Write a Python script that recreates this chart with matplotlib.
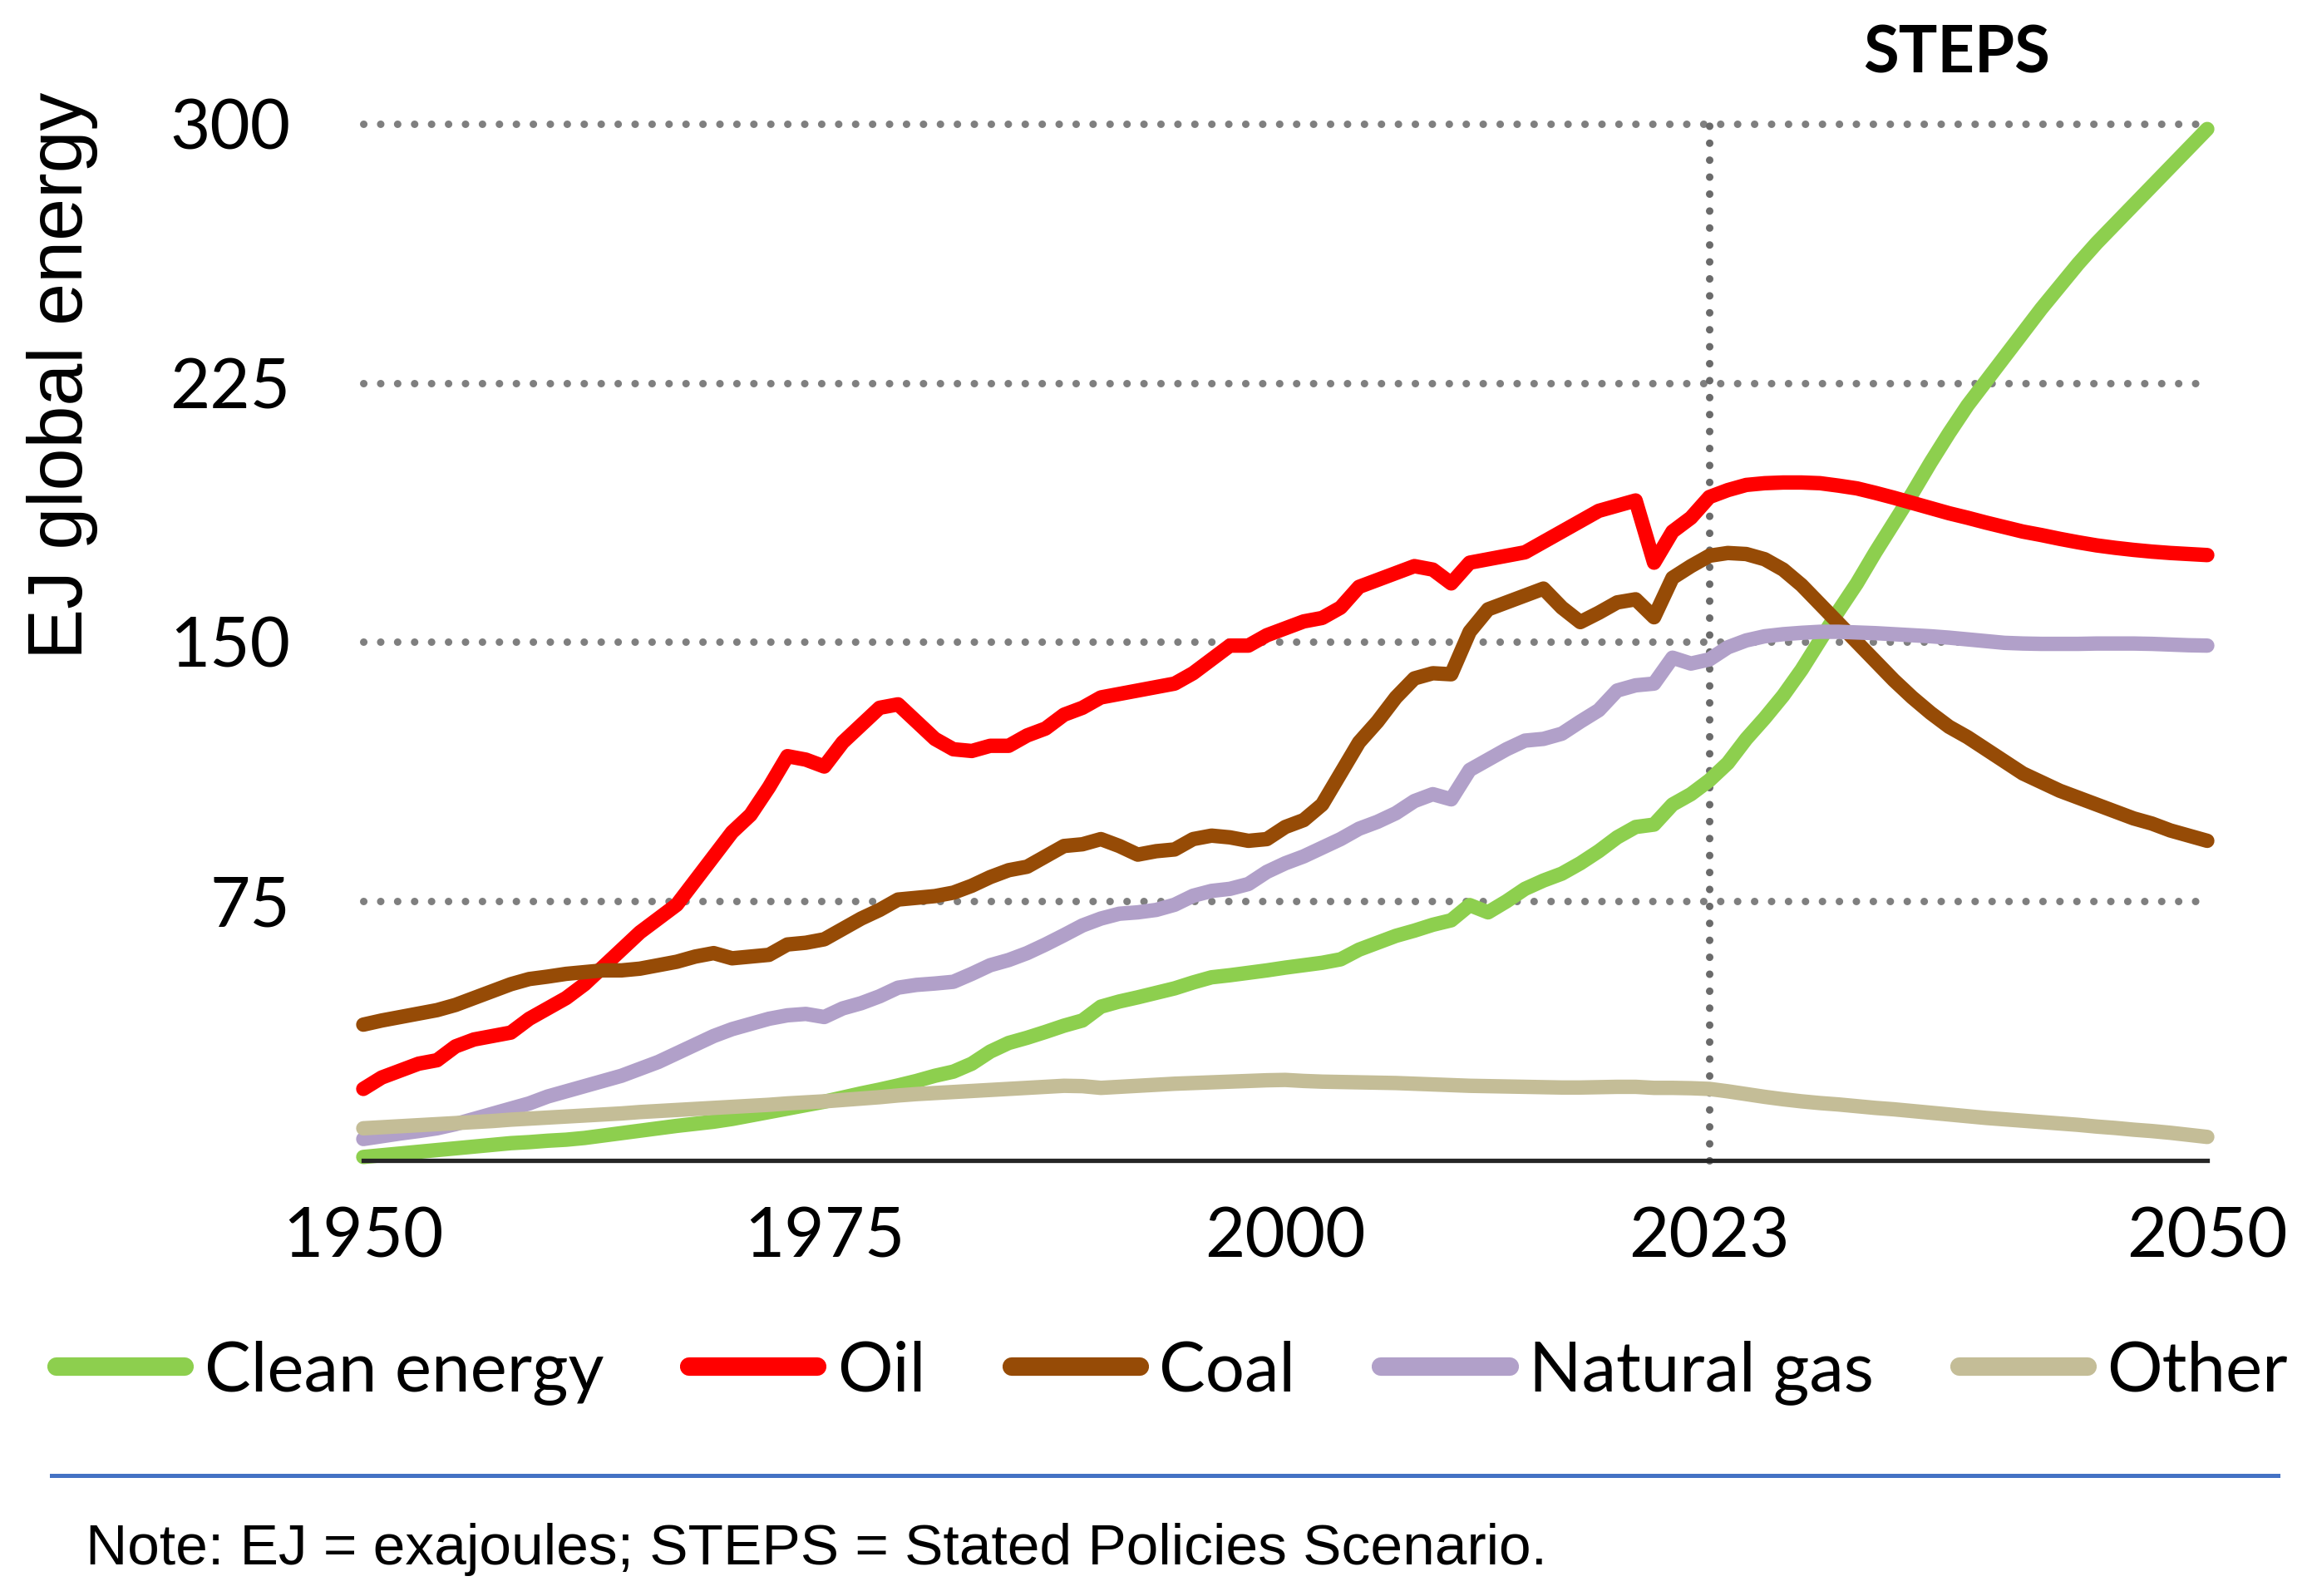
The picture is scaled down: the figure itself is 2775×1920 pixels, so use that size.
import matplotlib
matplotlib.use("Agg")
import matplotlib.pyplot as plt
from matplotlib.lines import Line2D

years = list(range(1950, 2051))

clean_energy = [
    1, 1.5, 2, 2.5, 3, 3.5, 4, 4.5, 5, 5.3,
    5.7, 6, 6.5, 7.2, 7.9, 8.6, 9.3, 10, 10.6, 11.2,
    12, 13, 14, 15, 16, 17, 18.2, 19.4, 20.5, 21.7,
    23, 24.5, 25.7, 28, 31.5, 34, 35.5, 37.2, 39, 40.5,
    44.5, 46, 47.2, 48.5, 49.8, 51.5, 53, 53.6, 54.3, 55,
    55.8, 56.5, 57.2, 58.2, 61, 63, 65, 66.5, 68.2, 69.5,
    73.9, 71.8, 75, 78.6, 81, 83, 86, 89.5, 93.5, 96.5,
    97.2, 103, 106, 110,
    115, 122, 128, 134.5, 142, 150.5, 159, 167, 176, 184.5,
    193, 202, 210.5, 218.5, 225.5, 232.5, 239.5, 246.5, 253, 259.5,
    265.5, 271, 276.5, 282, 287.5, 293, 298.5]

oil = [
    20.7, 24, 26, 28, 29, 33, 35, 36, 37, 41,
    44, 47, 51, 56, 61, 66, 70, 74, 81, 88,
    95, 100, 108, 117, 116, 114, 121, 126, 131, 132,
    127, 122, 119, 118.5, 120, 120, 123, 125, 129, 131,
    134, 135, 136, 137, 138, 141, 145, 149, 149, 152,
    154, 156, 157, 160, 166, 168, 170, 172, 171, 167,
    173, 174, 175, 176, 179, 182, 185, 188, 189.5, 191,
    173, 182, 186, 192,
    194, 195.5, 196, 196.2, 196.2, 196, 195.3, 194.5, 193.2, 191.8,
    190.3, 188.8, 187.3, 186, 184.6, 183.3, 182, 181, 179.9, 178.9,
    178, 177.3, 176.7, 176.2, 175.8, 175.5, 175.2]

coal = [
    39.3, 40.5, 41.5, 42.5, 43.5, 45, 47, 49, 51, 52.5,
    53.2, 54, 54.5, 55, 55, 55.5, 56.5, 57.5, 59, 60,
    58.5, 59, 59.5, 62.5, 63, 64, 67, 70, 72.5, 75.5,
    76, 76.5, 77.5, 79.5, 82, 84, 85, 88, 91, 91.5,
    93, 91, 88.5, 89.5, 90, 93, 94, 93.5, 92.5, 93,
    96.5, 98.5, 103, 112, 121, 127, 134, 139.5, 141, 140.7,
    153, 159.5, 161.5, 163.5, 165.5, 160, 155.8, 158.5, 161.5, 162.4,
    157.2, 168.6, 172, 175,
    175.8, 175.5, 174, 171, 166.5, 161, 155.5, 150, 144.5, 139,
    134, 129.5, 125.5, 122.5, 119, 115.5, 112, 109.5, 107, 105,
    103, 101, 99, 97.5, 95.5, 94, 92.5]

natural_gas = [
    6.2, 7, 7.8, 8.5, 9.3, 10.5, 12, 13.5, 15, 16.5,
    18.5, 20, 21.5, 23, 24.5, 26.5, 28.5, 31, 33.5, 36,
    38, 39.5, 41, 42, 42.4, 41.5, 44, 45.5, 47.5, 50,
    50.8, 51.2, 51.7, 54, 56.5, 58, 60, 62.5, 65.2, 68,
    70, 71.4, 71.8, 72.5, 74, 76.6, 78, 78.6, 80, 83.5,
    86, 88, 90.5, 93, 96, 98, 100.5, 104, 106, 104.5,
    113, 116, 119, 121.5, 122, 123.5, 127, 130.3, 136, 137.5,
    138, 145.5, 143.8, 145,
    148.5, 150.5, 151.7, 152.3, 152.7, 153, 153, 152.8, 152.6, 152.3,
    152, 151.7, 151.3, 150.8, 150.3, 149.8, 149.6, 149.5, 149.5, 149.5,
    149.6, 149.6, 149.6, 149.5, 149.3, 149.1, 149]

other = [
    9.3, 9.6, 9.9, 10.2, 10.5, 10.8, 11.1, 11.4, 11.8, 12.1,
    12.4, 12.7, 13, 13.3, 13.6, 14, 14.3, 14.6, 14.9, 15.2,
    15.5, 15.8, 16.1, 16.5, 16.8, 17.1, 17.5, 17.9, 18.3, 18.8,
    19.2, 19.5, 19.8, 20.1, 20.4, 20.7, 21, 21.3, 21.6, 21.5,
    21, 21.3, 21.6, 21.9, 22.2, 22.4, 22.6, 22.8, 23, 23.2,
    23.3, 23, 22.8, 22.7, 22.6, 22.5, 22.4, 22.2, 22, 21.8,
    21.6, 21.5, 21.4, 21.3, 21.2, 21.1, 21.1, 21.2, 21.3, 21.3,
    21, 21, 20.9, 20.7,
    20, 19.2, 18.4, 17.7, 17.1, 16.6, 16.2, 15.7, 15.2, 14.8,
    14.3, 13.8, 13.3, 12.8, 12.3, 11.9, 11.5, 11.1, 10.7, 10.3,
    9.8, 9.4, 8.9, 8.5, 8, 7.4, 6.8]

series_names = ["Clean energy", "Oil", "Coal", "Natural gas", "Other"]
series_colors = ["#8DCF4E", "#FF0000", "#964B06", "#B1A0C9", "#C4BD97"]
x_ticks = [1950, 1975, 2000, 2023, 2050]
y_ticks = [75, 150, 225, 300]
base_year = 2023

W, H = 2775, 1920
fig = plt.figure(figsize=(W / 100, H / 100), dpi=100)
ax = fig.add_axes([437 / W, 1 - 1396 / H, (2655 - 437) / W, (1396 - 149) / H])

ax.set_xlim(1950, 2050)
ax.set_ylim(0, 300)

dot_style = (0, (0.01, 2.25))
for yv in y_ticks:
    ax.plot([1950, 2050], [yv, yv], color="#7F7F7F", lw=6.5,
            linestyle=dot_style, dash_capstyle="round", zorder=1,
            clip_on=False)
ax.plot([base_year, base_year], [0, 300], color="#6A6A6A", lw=6.5,
        linestyle=dot_style, dash_capstyle="round", zorder=1,
        clip_on=False)

data = [clean_energy, oil, coal, natural_gas, other]
for vals, name, col in zip(data, series_names, series_colors):
    ax.plot(years, vals, color=col, lw=12.5, solid_capstyle="round",
            solid_joinstyle="round", label=name, zorder=3, clip_on=False)

for s in ["top", "right", "left"]:
    ax.spines[s].set_visible(False)
ax.spines["bottom"].set_color("#262626")
ax.spines["bottom"].set_linewidth(3.8)
ax.spines["bottom"].set_zorder(4)

ax.set_xticks(x_ticks)
ax.set_xticklabels([str(t) for t in x_ticks])
ax.set_yticks(y_ticks)
ax.set_yticklabels([str(t) for t in y_ticks])
ax.tick_params(axis="both", length=0, labelsize=60, colors="#000000")
ax.tick_params(axis="x", pad=40)
ax.tick_params(axis="y", pad=63)
for lab in ax.get_xticklabels() + ax.get_yticklabels():
    lab.set_fontfamily(["Lato", "DejaVu Sans"])

fig.text(75 / W, 1 - 452 / H, "EJ global energy", rotation=90,
         ha="center", va="center", fontsize=66,
         family=["Liberation Sans", "DejaVu Sans"])

fig.text(2354 / W, 1 - 66 / H, "STEPS", ha="center", va="center",
         fontsize=56, fontweight="bold", family=["Lato", "DejaVu Sans"])

handles = [Line2D([0], [0], color=c, lw=16, solid_capstyle="round")
           for c in series_colors]
leg = fig.legend(handles, series_names, loc="center left",
                 bbox_to_anchor=(68 / W, 1 - 1651 / H), ncol=5, frameon=False,
                 prop={"family": "Lato", "size": 60},
                 handlelength=1.85, handletextpad=0.28, columnspacing=1.24,
                 borderaxespad=0, borderpad=0)

fig.add_artist(Line2D([62 / W, 2740 / W], [1 - 1775 / H, 1 - 1775 / H],
                      color="#4472C4", lw=3.6, transform=fig.transFigure))

fig.text(103 / W, 1 - 1864 / H,
         "Note: EJ = exajoules; STEPS = Stated Policies Scenario.",
         ha="left", va="center", fontsize=50,
         family=["Liberation Sans", "DejaVu Sans"])

fig.savefig("out.png", dpi=100, facecolor="white")
